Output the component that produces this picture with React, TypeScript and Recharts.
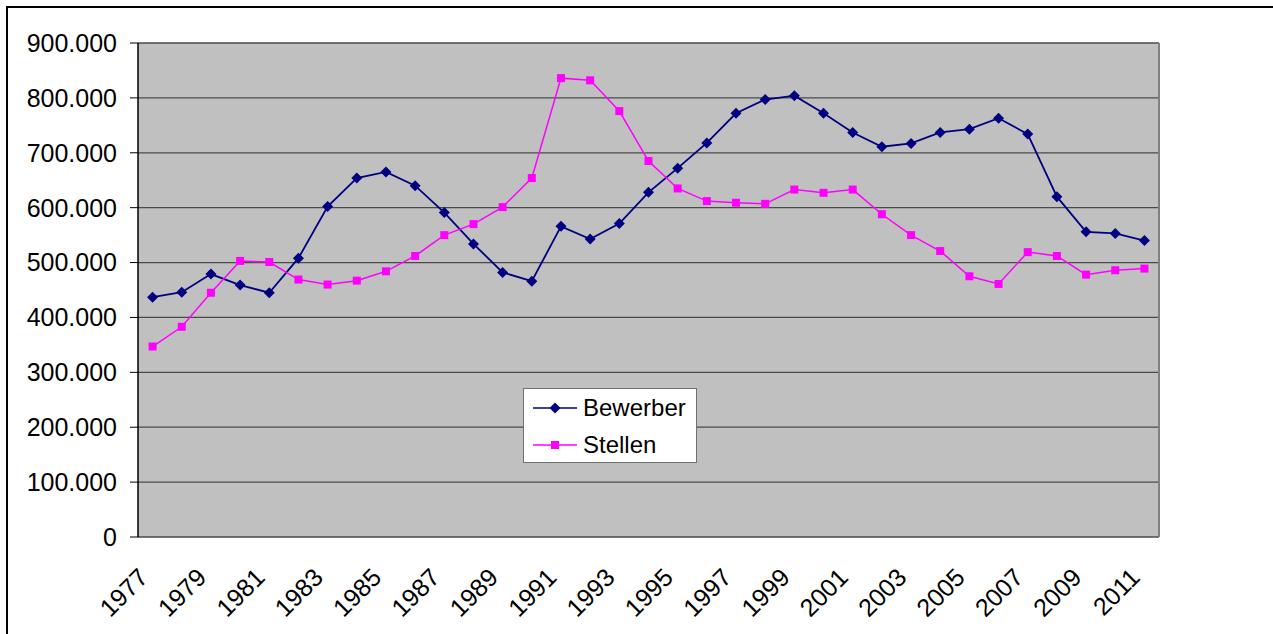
import React from 'react';
import { LineChart, Line, XAxis, YAxis, CartesianGrid, Legend, ReferenceLine } from 'recharts';

// Jahre und Werte
const years = [
  1977, 1978, 1979, 1980, 1981, 1982, 1983, 1984, 1985, 1986, 1987, 1988,
  1989, 1990, 1991, 1992, 1993, 1994, 1995, 1996, 1997, 1998, 1999, 2000,
  2001, 2002, 2003, 2004, 2005, 2006, 2007, 2008, 2009, 2010, 2011,
];
const bewerber = [
  437000, 446000, 479000, 459000, 445000, 508000, 602000, 654000, 665000, 640000, 591000, 534000,
  482000, 466000, 566000, 543000, 571000, 628000, 672000, 718000, 772000, 797000, 804000, 772000,
  737000, 711000, 717000, 737000, 743000, 763000, 734000, 620000, 556000, 553000, 540000,
];
const stellen = [
  347000, 383000, 445000, 503000, 501000, 469000, 460000, 467000, 484000, 512000, 550000, 570000,
  601000, 654000, 836000, 832000, 776000, 685000, 635000, 612000, 609000, 607000, 633000, 627000,
  633000, 588000, 550000, 521000, 475000, 461000, 519000, 512000, 478000, 486000, 489000,
];
const yTicks = [0, 100000, 200000, 300000, 400000, 500000, 600000, 700000, 800000, 900000];
const labelYears = years.filter((y) => y % 2 === 1);

const data = years.map((year, i) => ({ year, Bewerber: bewerber[i], Stellen: stellen[i] }));
const boundaries = [...years.map((y) => y - 0.5), years[years.length - 1] + 0.5];
const domain = [boundaries[0], boundaries[boundaries.length - 1]];

const FONT = '"Liberation Sans", Arial, sans-serif';
const NAVY = '#000080';
const MAGENTA = '#FF00FF';

const fmt = (v: number) => (v === 0 ? '0' : String(v).replace(/\B(?=(\d{3})+(?!\d))/g, '.'));

const Diamond = (props: any) => {
  const { cx, cy } = props;
  if (cx == null || cy == null) return null;
  const r = 5.5;
  return <path d={`M${cx},${cy - r}L${cx + r},${cy}L${cx},${cy + r}L${cx - r},${cy}Z`} fill={NAVY} />;
};

const Square = (props: any) => {
  const { cx, cy } = props;
  if (cx == null || cy == null) return null;
  return <rect x={cx - 4} y={cy - 4} width={8} height={8} fill={MAGENTA} />;
};

const YearTick = (props: any) => {
  const { x, y, payload } = props;
  const tx = x - 3;
  const ty = y + 42;
  return (
    <text x={tx} y={ty} transform={`rotate(-45, ${tx}, ${ty})`} textAnchor="end" fontSize={25} fontFamily={FONT} fill="#000">
      {payload.value}
    </text>
  );
};

const LegendBox = () => (
  <div
    style={{
      width: 172,
      height: 73,
      background: '#fff',
      border: '1px solid #707070',
      fontFamily: FONT,
      fontSize: 24,
      color: '#000',
      boxSizing: 'content-box',
    }}
  >
    {[
      { name: 'Bewerber', color: NAVY, shape: 'diamond' },
      { name: 'Stellen', color: MAGENTA, shape: 'square' },
    ].map((s) => (
      <div key={s.name} style={{ display: 'flex', alignItems: 'center', height: 37 }}>
        <svg width={58} height={20} style={{ marginLeft: 9 }}>
          <line x1={0} y1={10} x2={44} y2={10} stroke={s.color} strokeWidth={1.5} />
          {s.shape === 'diamond' ? (
            <path d="M22,4.5L27.5,10L22,15.5L16.5,10Z" fill={s.color} />
          ) : (
            <rect x={18} y={6} width={8} height={8} fill={s.color} />
          )}
        </svg>
        <span style={{ marginLeft: -8 }}>{s.name}</span>
      </div>
    ))}
  </div>
);

export default function App() {
  return (
    <div style={{ position: 'absolute', left: 0, top: 0, width: 1273, height: 634, overflow: 'hidden', background: '#fff' }}>
      <div
        style={{
          position: 'absolute',
          left: 6,
          top: 6,
          width: 1400,
          height: 800,
          borderLeft: '2px solid #000',
          borderTop: '2px solid #000',
        }}
      />
      <div style={{ position: 'absolute', left: 0, top: 0 }}>
        <LineChart width={1273} height={634} data={data} margin={{ top: 43, right: 114, left: 0, bottom: 0 }}>
          <CartesianGrid vertical={false} fill="#C0C0C0" stroke="#4a4a4a" strokeWidth={1.3} />
          <XAxis
            xAxisId="m"
            dataKey="year"
            type="number"
            domain={domain}
            ticks={boundaries}
            interval={0}
            tick={false}
            tickSize={8}
            height={0}
            axisLine={{ stroke: '#000', strokeWidth: 1.5 }}
            tickLine={{ stroke: '#000' }}
          />
          <XAxis
            xAxisId="l"
            dataKey="year"
            type="number"
            domain={domain}
            ticks={labelYears}
            interval={0}
            height={97}
            axisLine={false}
            tickLine={false}
            tickSize={0}
            tickMargin={0}
            tick={<YearTick />}
          />
          <YAxis
            domain={[0, 900000]}
            ticks={yTicks}
            interval={0}
            width={138}
            tickSize={8}
            tickMargin={13}
            tickFormatter={fmt}
            axisLine={{ stroke: '#000', strokeWidth: 1.5 }}
            tickLine={{ stroke: '#000' }}
            tick={{ fontSize: 25, fontFamily: FONT, fill: '#000' }}
          />
          <ReferenceLine xAxisId="m" x={domain[1]} stroke="#808080" strokeWidth={2} />
          <Line
            xAxisId="m"
            dataKey="Bewerber"
            stroke={NAVY}
            strokeWidth={1.8}
            dot={<Diamond />}
            activeDot={false}
            isAnimationActive={false}
          />
          <Line
            xAxisId="m"
            dataKey="Stellen"
            stroke={MAGENTA}
            strokeWidth={1.5}
            dot={<Square />}
            activeDot={false}
            isAnimationActive={false}
          />
          <Legend
            layout="vertical"
            align="center"
            verticalAlign="middle"
            wrapperStyle={{ left: 523, top: 388, width: 174, height: 75 }}
            content={() => <LegendBox />}
          />
        </LineChart>
      </div>
    </div>
  );
}
